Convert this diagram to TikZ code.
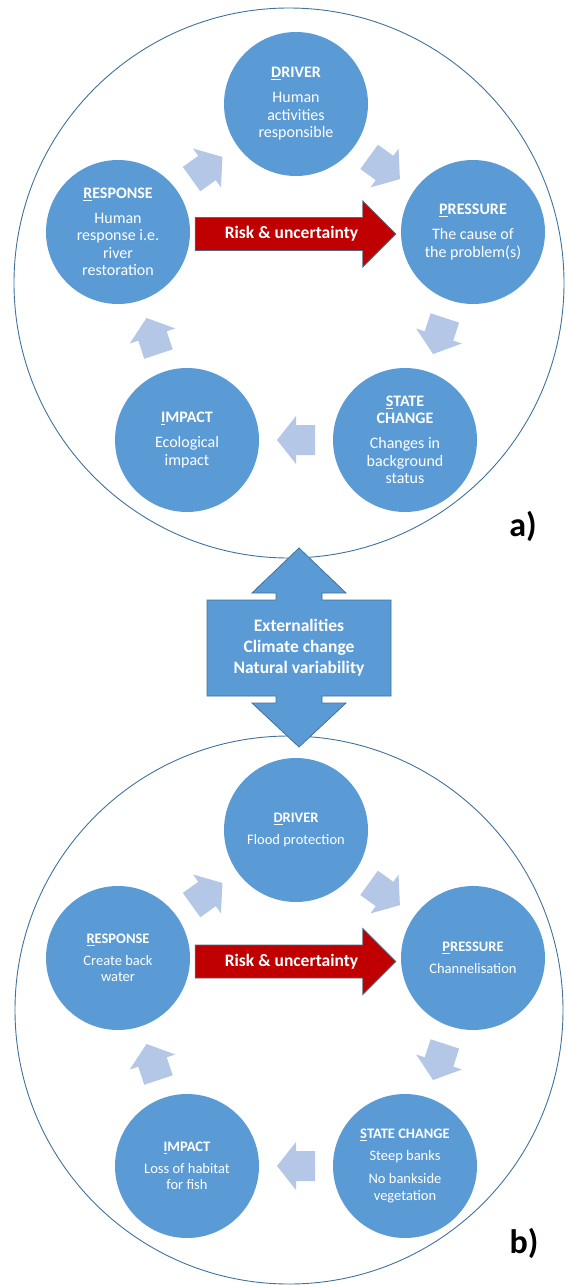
\documentclass[tikz,border=0pt]{standalone}
\usepackage{fontspec}
\setmainfont{Carlito}
\usetikzlibrary{calc}

\definecolor{nodeblue}{HTML}{5B9BD5}
\definecolor{ringblue}{HTML}{41719C}
\definecolor{paleblue}{HTML}{B4C7E7}
\definecolor{riskred}{HTML}{C00000}
\definecolor{riskedge}{HTML}{56677F}

% pale block arrow half-way between two stages, pointing from #1 to #2
\newcommand\cyclearrow[2]{%
  \pgfmathanglebetweenpoints{\pgfpointanchor{#1}{center}}{\pgfpointanchor{#2}{center}}%
  \let\cyclangle\pgfmathresult
  \fill[cyc, shift={($(#1)!0.5!(#2)$)}, rotate=\cyclangle]
    (19,0) -- (0,-24) -- (0,-15) -- (-19,-15) -- (-19,15) -- (0,15) -- (0,24) -- cycle;
}

% red "risk" arrow from stage #1 to stage #2, lowered by #3
\newcommand\riskarrow[4]{%
  \coordinate (#4tail) at ($(#1.east)+(5,#3)$);
  \coordinate (#4tip) at ($(#2.west)+(-5,#3)$);
  \draw[risk] ($(#4tail)+(0,-16.5)$) -- ($(#4tip)+(-33,-16.5)$) -- ($(#4tip)+(-33,-33)$)
    -- (#4tip) -- ($(#4tip)+(-33,33)$) -- ($(#4tip)+(-33,16.5)$) -- ($(#4tail)+(0,16.5)$) -- cycle;
  \node[risktext] (#4label) at ($(#4tail)!0.5!(#4tip)+(-4,0)$) {Risk \& uncertainty};
}

\begin{document}
\begin{tikzpicture}[x=1pt,y=-1pt,
  stage/.style={circle, fill=nodeblue, minimum size=144pt, inner sep=0pt,
    align=center, text=white},
  bigstage/.style={stage, font=\fontsize{16}{17.5}\selectfont},
  smallstage/.style={stage, font=\fontsize{14.5}{16.5}\selectfont},
  ring/.style={circle, draw=ringblue, line width=0.9pt, inner sep=0pt},
  cyc/.style={fill=paleblue},
  risk/.style={fill=riskred, draw=riskedge, line width=0.8pt, line join=miter},
  risktext/.style={text=white, font=\bfseries\fontsize{17.5}{20}\selectfont},
  extbox/.style={fill=nodeblue, draw=ringblue, line width=0.8pt},
  exttext/.style={text=white, align=center, font=\bfseries\fontsize{17.5}{21}\selectfont},
  tag/.style={font=\bfseries\fontsize{34}{36}\selectfont, text=black}]

\useasboundingbox (0,0) rectangle (566,1285);

% outer rings
\node[ring, minimum size=550pt] (ringA) at (289,283) {};
\node[ring, minimum size=548pt] (ringB) at (289,1010) {};

% shared pressures between the two cycles
\coordinate (extc) at (299,648);
\draw[extbox] ($(extc)+(0,-100)$) -- ($(extc)+(47,-55)$) -- ($(extc)+(23,-55)$) -- ($(extc)+(23,-48)$)
  -- ($(extc)+(92,-48)$) -- ($(extc)+(92,48)$) -- ($(extc)+(23,48)$) -- ($(extc)+(23,55)$)
  -- ($(extc)+(47,55)$) -- ($(extc)+(0,99)$) -- ($(extc)+(-47,55)$) -- ($(extc)+(-23,55)$)
  -- ($(extc)+(-23,48)$) -- ($(extc)+(-92,48)$) -- ($(extc)+(-92,-48)$) -- ($(extc)+(-23,-48)$)
  -- ($(extc)+(-23,-55)$) -- ($(extc)+(-47,-55)$) -- cycle;
\node[exttext] (ext) at (extc) {Externalities\\Climate change\\Natural variability};

% ---- a) general DPSIR cycle ----
\node[bigstage] (drvA) at (296,104) {\textbf{\underline{D}RIVER}\\[7.5pt]Human\\activities\\responsible};
\node[bigstage] (resA) at (118,232) {\textbf{\underline{R}ESPONSE}\\[7.5pt]Human\\response i.e.\\river\\restoration};
\node[bigstage] (preA) at (473,232) {\textbf{\underline{P}RESSURE}\\[7.5pt]The cause of\\the problem(s)};
\node[bigstage] (impA) at (187,440) {\textbf{\underline{I}MPACT}\\[7.5pt]Ecological\\impact};
\node[bigstage] (staA) at (405,440) {\textbf{\underline{S}TATE}\\\textbf{CHANGE}\\[7.5pt]Changes in\\background\\status};

\cyclearrow{resA}{drvA}
\cyclearrow{drvA}{preA}
\cyclearrow{preA}{staA}
\cyclearrow{staA}{impA}
\cyclearrow{impA}{resA}
\riskarrow{resA}{preA}{2}{riskA}

\node[tag] (tagA) at (523,526) {a)};

% ---- b) river example ----
\node[smallstage] (drvB) at (296,830) {\textbf{\underline{D}RIVER}\\[5.5pt]Flood protection};
\node[smallstage] (resB) at (118,958) {\textbf{\underline{R}ESPONSE}\\[5.5pt]Create back\\water};
\node[smallstage] (preB) at (473,958) {\textbf{\underline{P}RESSURE}\\[5.5pt]Channelisation};
\node[smallstage] (impB) at (187,1166) {\textbf{\underline{I}MPACT}\\[5.5pt]Loss of habitat\\for fish};
\node[smallstage] (staB) at (405,1166) {\textbf{\underline{S}TATE CHANGE}\\[5.5pt]Steep banks\\[6.5pt]No bankside\\vegetation};

\cyclearrow{resB}{drvB}
\cyclearrow{drvB}{preB}
\cyclearrow{preB}{staB}
\cyclearrow{staB}{impB}
\cyclearrow{impB}{resB}
\riskarrow{resB}{preB}{3.5}{riskB}

\node[tag] (tagB) at (524,1243) {b)};

\end{tikzpicture}
\end{document}
